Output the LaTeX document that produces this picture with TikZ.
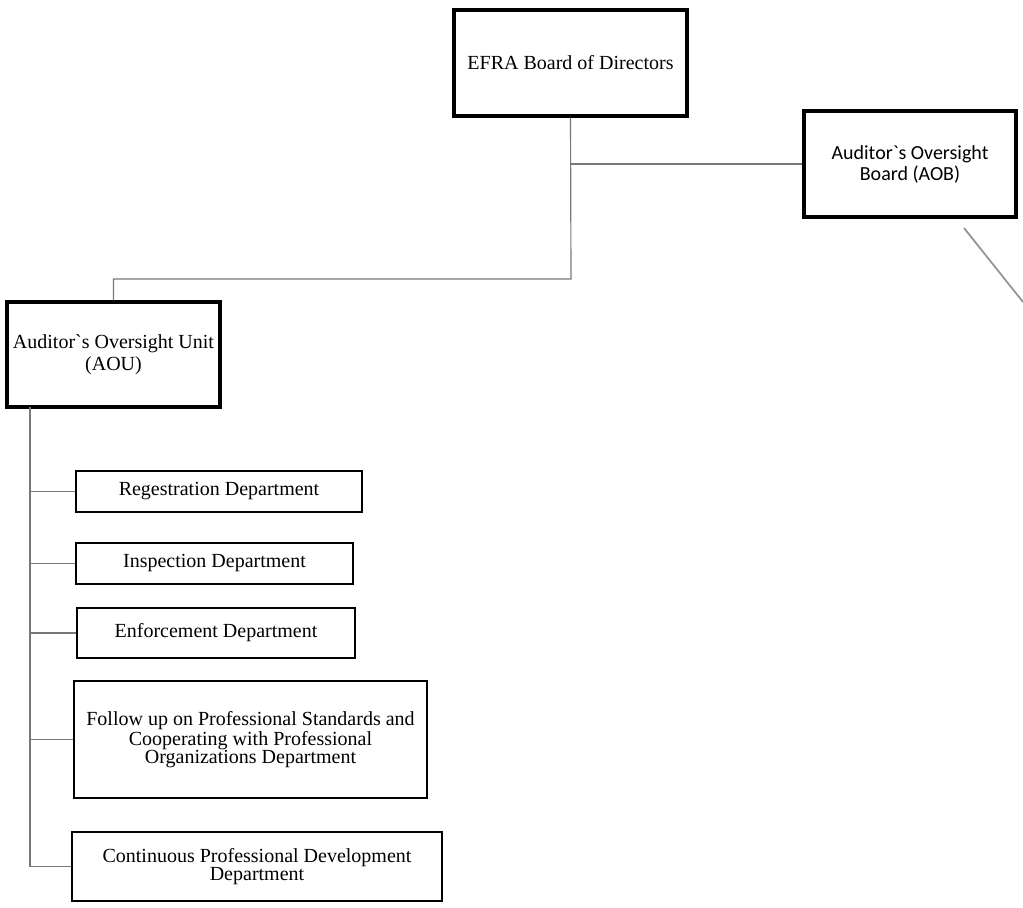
\documentclass[tikz,border=0pt]{standalone}
\usepackage{fontspec}
\setmainfont{Liberation Serif}
\newfontfamily\calibrifont{Carlito}
\usetikzlibrary{positioning, calc}
\definecolor{linkgray}{RGB}{120,120,120}
\definecolor{faintgray}{RGB}{150,150,150}

\begin{document}
\begin{tikzpicture}[x=0.6pt, y=-0.6pt,
  mainbox/.style={rectangle, draw, line width=2pt, align=center, font=\fontsize{12}{13.5}\selectfont},
  deptbox/.style={rectangle, draw, line width=1.3pt, align=center, font=\fontsize{12}{11}\selectfont},
  link/.style={draw=linkgray, line width=0.7pt},
  faintlink/.style={draw=faintgray, line width=1.1pt}]
\useasboundingbox (0,0) rectangle (1023,907);

% Top level
\node[mainbox, minimum width=139.8pt, minimum height=63.6pt] (efra) at (570.5,63) {EFRA Board of Directors};

\node[mainbox, minimum width=127.2pt, minimum height=63.6pt, font=\calibrifont\fontsize{12}{12.6}\selectfont] (aob) at (910,164) {Auditor\textasciigrave s Oversight\\Board (AOB)};

\node[mainbox, minimum width=127.8pt, minimum height=63pt] (aou) at (113.5,354.5) {Auditor\textasciigrave s Oversight Unit\\(AOU)};

% Departments
\node[deptbox, minimum width=171.6pt, minimum height=24.6pt] (reg) at (219,491.5) {Regestration Department};

\node[deptbox, minimum width=166.2pt, minimum height=24.6pt] (insp) at (214.5,563.5) {Inspection Department};

\node[deptbox, minimum width=166.8pt, minimum height=30pt] (enf) at (216,633) {Enforcement Department};

\node[deptbox, minimum width=211.8pt, minimum height=70.2pt] (follow) at (250.5,739.5) {Follow up on Professional Standards and\\Cooperating with Professional\\Organizations Department};

\node[deptbox, minimum width=222pt, minimum height=41.4pt] (cpd) at (257,866.5) {Continuous Professional Development\\Department};

% Connectors
\coordinate (split) at (571,279);
\coordinate (bus) at (30,407);
\coordinate (tailA) at (964,228);
\coordinate (tailB) at (1023,302);

\draw[link] (efra.south) -- (split) -| (aou.north);
\draw[link] (efra.south |- aob.west) -- (aob.west);
\draw[faintlink] (tailA) -- (tailB);

\draw[link] (bus) -- (bus |- cpd.west);
\draw[link] (bus |- reg.west) -- (reg.west);
\draw[link] (bus |- insp.west) -- (insp.west);
\draw[link] (bus |- enf.west) -- (enf.west);
\draw[link] (bus |- follow.west) -- (follow.west);
\draw[link] (bus |- cpd.west) -- (cpd.west);
\end{tikzpicture}
\end{document}
